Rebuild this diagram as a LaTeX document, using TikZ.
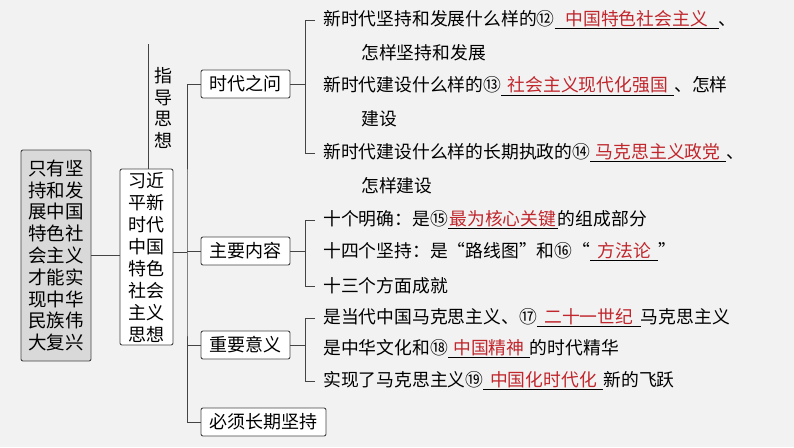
\documentclass[tikz,border=0pt]{standalone}
\usepackage{fontspec}
\setmainfont{Noto Sans CJK SC}
\definecolor{ansred}{HTML}{C0262C}
\definecolor{ln}{HTML}{444444}
\newcommand\ans[2]{\underline{\makebox[#1pt]{\color{ansred}#2}}}
\tikzset{
 box/.style={draw=ln,line width=0.9pt,rounded corners=2pt,fill=white,inner sep=0pt,font=\fontsize{18}{20}\selectfont},
 item/.style={anchor=west,inner sep=0pt,font=\fontsize{17.8}{19}\selectfont},
 con/.style={draw=ln,line width=0.9pt}
}
\begin{document}
\begin{tikzpicture}[x=1pt,y=-1pt]
\fill[white!95!black] (0,0) rectangle (794,447);
\useasboundingbox (0,0) rectangle (794,447);
% left boxes
\node[box,fill=black!15,minimum width=70pt,minimum height=211pt,align=center,font=\fontsize{18.5}{21.8}\selectfont] (goal) at (56,255.5) {只有坚\\持和发\\展中国\\特色社\\会主义\\才能实\\现中华\\民族伟\\大复兴};
\node[box,minimum width=53pt,minimum height=176pt,align=center,font=\fontsize{18}{22}\selectfont] (xi) at (146.5,257) {习近\\平新\\时代\\中国\\特色\\社会\\主义\\思想};
\draw[con] (goal.east) -- (xi.west|-goal.east);
\coordinate (top) at (148,44);
\draw[con] (top) -- (xi.north-|top);
\node[align=center,font=\fontsize{18}{21.5}\selectfont,inner sep=0pt] (zd) at (163,108) {指\\导\\思\\想};
% second level
\node[box,minimum width=89pt,minimum height=28pt] (b1) at (245.5,84) {时代之问};
\node[box,minimum width=89pt,minimum height=28pt] (b2) at (245.5,251) {主要内容};
\node[box,minimum width=89pt,minimum height=28pt] (b3) at (245.5,345) {重要意义};
\node[box,minimum width=125pt,minimum height=28pt] (b4) at (263.5,422) {必须长期坚持};
\coordinate (tr) at (187,252);
\draw[con] (xi.east|-tr) -- (tr);
\draw[con] (b1.west) -| (tr) |- (b4.west);
\draw[con] (b2.west) -- (b2.west-|tr);
\draw[con] (b3.west) -- (b3.west-|tr);
% items
\node[item] (i1) at (323,20) {新时代坚持和发展什么样的⑫\ans{164}{中国特色社会主义}、};
\node[item] (i1b) at (361,53) {怎样坚持和发展};
\node[item] (i2) at (323,86) {新时代建设什么样的⑬\ans{173}{社会主义现代化强国}、怎样};
\node[item] (i2b) at (361,119) {建设};
\node[item] (i3) at (323,153) {新时代建设什么样的长期执政的⑭\ans{136}{马克思主义政党}、};
\node[item] (i3b) at (361,186) {怎样建设};
\node[item] (i4) at (323,220) {十个明确：是⑮\ans{110}{最为核心关键}的组成部分};
\node[item] (i5) at (323,252) {十四个坚持：是“路线图”和⑯“\ans{68}{方法论}”};
\node[item] (i6) at (323,286) {十三个方面成就};
\node[item] (i7) at (323,318) {是当代中国马克思主义、⑰\ans{104}{二十一世纪}马克思主义};
\node[item] (i8) at (323,349) {是中华文化和⑱\ans{82}{中国精神}的时代精华};
\node[item] (i9) at (323,381) {实现了马克思主义⑲\ans{120}{中国化时代化}新的飞跃};
% brackets
\foreach \b/\a/\z in {b1/i1/i3, b2/i4/i6, b3/i7/i9}{
 \draw[con] (\b.east) -- (\b.east-|305,0);
 \draw[con] ([xshift=-8pt]\a.west) -| (305,0|-\a.west) |- ([xshift=-8pt]\z.west);
}
\end{tikzpicture}
\end{document}
